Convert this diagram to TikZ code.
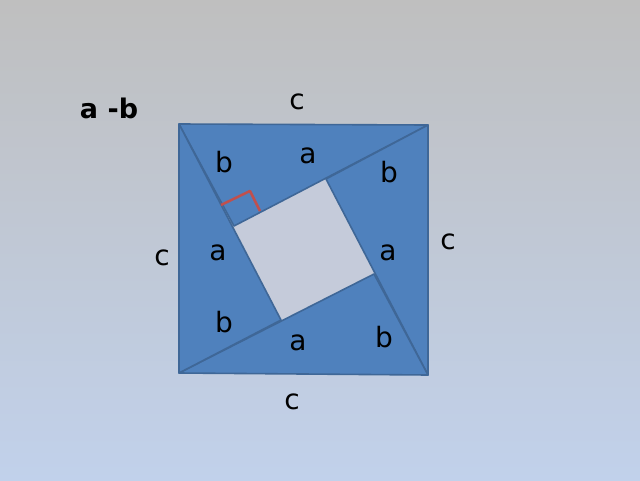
\documentclass[tikz,border=0pt]{standalone}
\usepackage{fontspec}
\setmainfont{DejaVu Sans}
\definecolor{bgtop}{HTML}{BFBFBF}
\definecolor{bgbot}{HTML}{C1D1EB}
\definecolor{triblue}{HTML}{4F81BD}
\definecolor{triedge}{HTML}{3F6797}
\definecolor{innerfill}{HTML}{C5CBDA}
\definecolor{anglered}{HTML}{C0504D}
\tikzset{
  tri/.style={fill=triblue, draw=triedge, line width=1.6pt, line join=round},
  lbl/.style={font=\fontsize{28}{30}\selectfont, inner sep=0pt, text=black},
}
\begin{document}
\begin{tikzpicture}[x=1pt,y=-1pt]
\shade[top color=bgtop, bottom color=bgbot] (0,0) rectangle (640,480);
\useasboundingbox (0,0) rectangle (640,480);
\coordinate (A) at (179,124);
\coordinate (B) at (428,125);
\coordinate (C) at (428,375);
\coordinate (D) at (179,373);
\coordinate (P) at (234,226);
\coordinate (Q) at (326,179);
\coordinate (R) at (374,274);
\coordinate (S) at (281,320);
\fill[innerfill] (P) -- (Q) -- (R) -- (S) -- cycle;
\draw[tri] (A) -- (B) -- (P) -- cycle;
\draw[tri] (B) -- (C) -- (Q) -- cycle;
\draw[tri] (C) -- (D) -- (R) -- cycle;
\draw[tri] (D) -- (A) -- (S) -- cycle;
\coordinate (m1) at (221,205);
\coordinate (m2) at (250,191);
\coordinate (m3) at (260,211);
\draw[anglered, line width=2.5pt, line join=round] (m1) -- (m2) -- (m3);
\node[lbl, font=\fontsize{27}{30}\selectfont\bfseries] (title) at (109,108) {a -b};
\node[lbl] (ct) at (297,102) {c};
\node[lbl] (a1) at (308,156) {a};
\node[lbl] (b1) at (224,162) {b};
\node[lbl] (b2) at (389,172) {b};
\node[lbl] (cr) at (448,242) {c};
\node[lbl] (a2) at (218,253) {a};
\node[lbl] (a3) at (388,253) {a};
\node[lbl] (cl) at (162,258) {c};
\node[lbl] (b3) at (224,322) {b};
\node[lbl] (b4) at (384,337) {b};
\node[lbl] (a4) at (298,343) {a};
\node[lbl] (cb) at (292,402) {c};
\end{tikzpicture}
\end{document}
